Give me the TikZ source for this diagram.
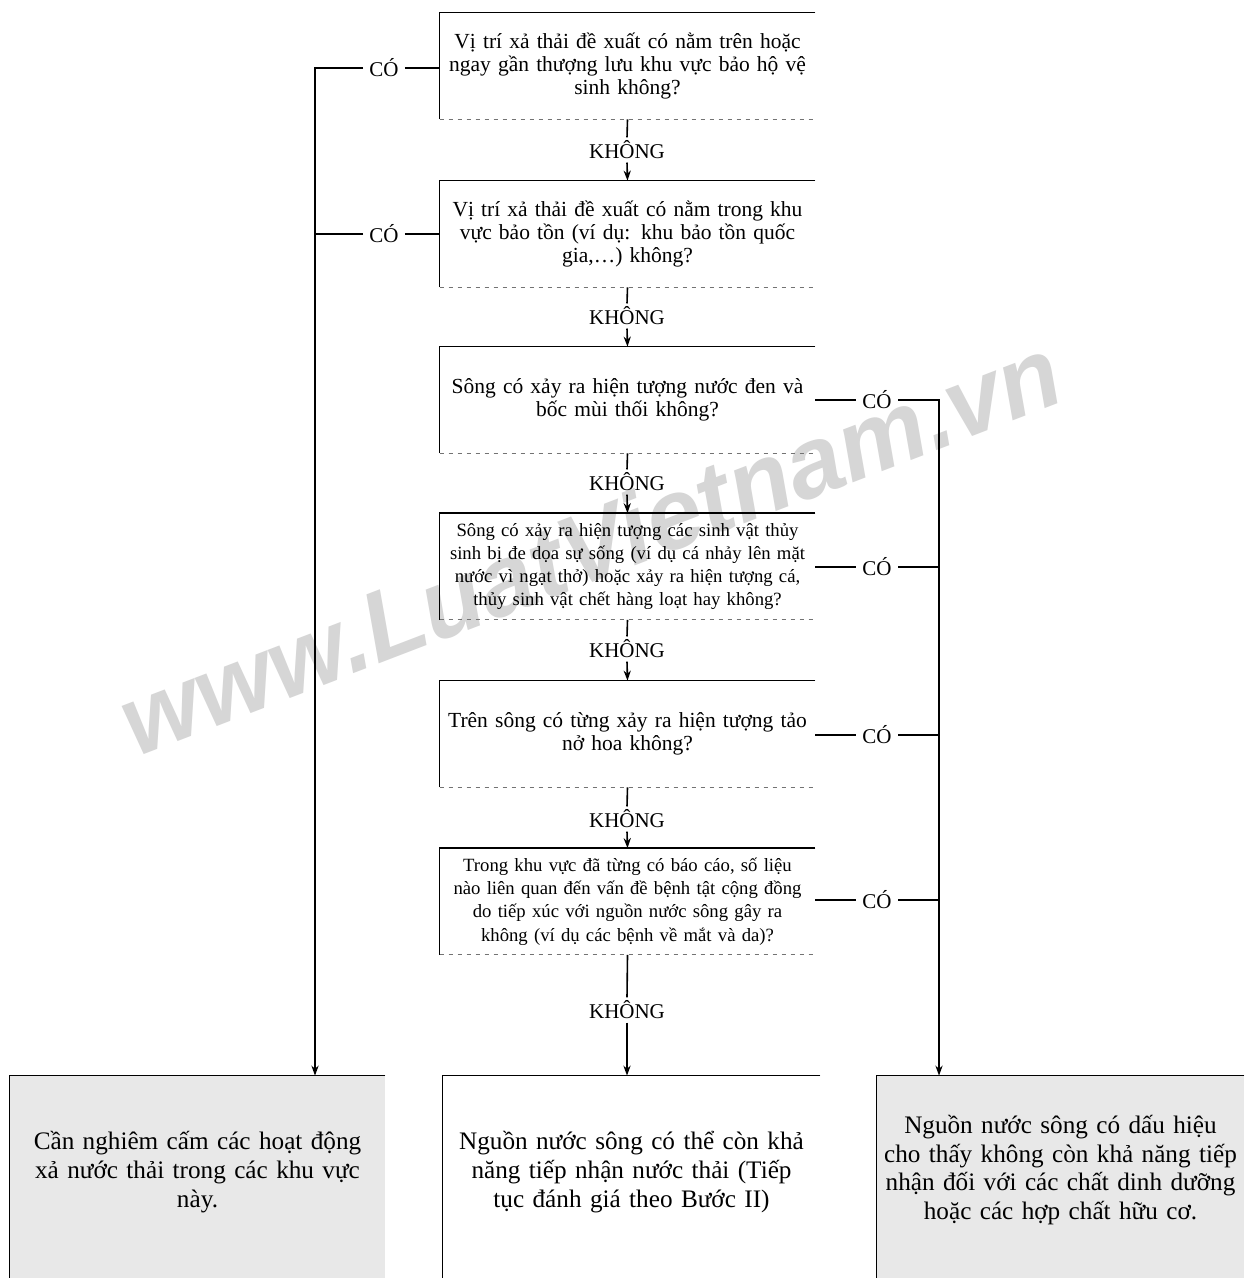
\documentclass[tikz,border=0pt]{standalone}
\usepackage{fontspec}
\setmainfont{Liberation Serif}
\newfontfamily\wmfont{Liberation Sans}
\usetikzlibrary{arrows.meta,backgrounds}
\begin{document}
\begin{tikzpicture}[x=0.5pt,y=-0.5pt,
  ln/.style={line width=0.8pt},
  arr/.style={line width=0.8pt,-{Stealth[length=5pt,width=3.6pt]}},
  botedge/.style={draw=black!55,line width=0.5pt,dash pattern=on 2pt off 2.5pt},
  qbox/.style={inner sep=0pt,text width=187.5pt,minimum height=53pt,align=center,
    font=\fontsize{10.75}{11.6}\selectfont},
  qsmall/.style={qbox,font=\fontsize{9.35}{11.6}\selectfont},
  rbox/.style={inner sep=0pt,align=center,minimum height=96pt,
    font=\fontsize{12.6}{14.3}\selectfont},
  lab/.style={inner sep=3pt,font=\fontsize{10.5}{12}\selectfont},
  klab/.style={inner sep=1.5pt,font=\fontsize{10.5}{12}\selectfont},
  stip/.style={fill=black!9},
  wm/.style={text=black!16,font=\wmfont\bfseries\itshape\fontsize{50}{56}\selectfont}
]
\useasboundingbox (0,0) rectangle (1244,1278);

% watermark
\node[wm,rotate=21] (wmark) at (590,545) {www.LuatVietnam.vn};

% question boxes
\node[qbox] (q1) at (627.5,66) {Vị trí xả thải đề xuất có nằm trên hoặc\\ngay gần thượng lưu khu vực bảo hộ vệ\\sinh không?};
\node[qbox] (q2) at (627.5,234) {Vị trí xả thải đề xuất có nằm trong khu\\vực bảo tồn (ví dụ: khu bảo tồn quốc\\gia,…) không?};
\node[qbox] (q3) at (627.5,400) {Sông có xảy ra hiện tượng nước đen và\\bốc mùi thối không?};
\node[qsmall] (q4) at (627.5,566.5) {Sông có xảy ra hiện tượng các sinh vật thủy\\sinh bị đe dọa sự sống (ví dụ cá nhảy lên mặt\\nước vì ngạt thở) hoặc xảy ra hiện tượng cá,\\thủy sinh vật chết hàng loạt hay không?};
\node[qbox] (q5) at (627.5,734) {Trên sông có từng xảy ra hiện tượng tảo\\nở hoa không?};
\node[qsmall] (q6) at (627.5,901.5) {Trong khu vực đã từng có báo cáo, số liệu\\nào liên quan đến vấn đề bệnh tật cộng đồng\\do tiếp xúc với nguồn nước sông gây ra\\không (ví dụ các bệnh về mắt và da)?};

\foreach \n in {q1,q2,q3,q4,q5,q6}{
  \draw[ln] (\n.north east) -- (\n.north west) -- (\n.south west);
  \draw[botedge] (\n.south west) -- (\n.south east);
}

% result boxes
\node[rbox,minimum width=187.5pt,text width=185pt] (r1) at (197.5,1172) {Cần nghiêm cấm các hoạt động\\xả nước thải trong các khu vực\\này.};
\node[rbox,minimum width=188.5pt,text width=186pt] (r2) at (631.5,1172) {Nguồn nước sông có thể còn khả\\năng tiếp nhận nước thải (Tiếp\\tục đánh giá theo Bước II)};
\node[rbox,minimum width=183.5pt,text width=182pt,minimum height=94pt] (r3) at (1060.5,1170) {Nguồn nước sông có dấu hiệu\\cho thấy không còn khả năng tiếp\\nhận đối với các chất dinh dưỡng\\hoặc các hợp chất hữu cơ.};

\begin{pgfonlayer}{background}
  \fill[white] (0,0) rectangle (1244,1278);
  \fill[stip] (r1.north west) rectangle ([yshift=-12pt]r1.south east);
  \fill[stip] (r3.north west) rectangle ([yshift=-12pt]r3.south east);
\end{pgfonlayer}
\foreach \n in {r1,r2,r3}{
  \draw[ln] (\n.north east) -- (\n.north west) -- ([yshift=-12pt]\n.south west);
}

% KHONG labels and vertical connectors
\node[klab] (k1) at (627,150) {KHÔNG};
\node[klab] (k2) at (627,316) {KHÔNG};
\node[klab] (k3) at (627,482) {KHÔNG};
\node[klab] (k4) at (627,649) {KHÔNG};
\node[klab] (k5) at (627,819) {KHÔNG};
\node[klab] (k6) at (627,1010) {KHÔNG};
\draw[ln] (q1.south) -- (k1.north); \draw[arr] (k1.south) -- (q2.north);
\draw[ln] (q2.south) -- (k2.north); \draw[arr] (k2.south) -- (q3.north);
\draw[ln] (q3.south) -- (k3.north); \draw[arr] (k3.south) -- (q4.north);
\draw[ln] (q4.south) -- (k4.north); \draw[arr] (k4.south) -- (q5.north);
\draw[ln] (q5.south) -- (k5.north); \draw[arr] (k5.south) -- (q6.north);
\draw[ln] (q6.south) -- (k6.north); \draw[arr] (k6.south) -- (k6.south |- r2.north);

% left CO branch
\coordinate (L) at (315,0);
\node[lab] (c1) at (384,68) {CÓ};
\node[lab] (c2) at (384,234) {CÓ};
\draw[ln] (c1.east) -- (c1 -| q1.west);
\draw[ln] (c2.east) -- (c2 -| q2.west);
\draw[arr] (c1.west) -- (c1 -| L) -- (L |- r1.north);
\draw[ln] (c2.west) -- (c2 -| L);

% right CO branch
\coordinate (R) at (939,0);
\node[lab] (c3) at (877,400) {CÓ};
\node[lab] (c4) at (877,567) {CÓ};
\node[lab] (c5) at (877,735) {CÓ};
\node[lab] (c6) at (877,900) {CÓ};
\draw[ln] (c3 -| q3.east) -- (c3.west);
\draw[ln] (c4 -| q4.east) -- (c4.west);
\draw[ln] (c5 -| q5.east) -- (c5.west);
\draw[ln] (c6 -| q6.east) -- (c6.west);
\draw[arr] (c3.east) -- (c3 -| R) -- (R |- r3.north);
\draw[ln] (c4.east) -- (c4 -| R);
\draw[ln] (c5.east) -- (c5 -| R);
\draw[ln] (c6.east) -- (c6 -| R);
\end{tikzpicture}
\end{document}
